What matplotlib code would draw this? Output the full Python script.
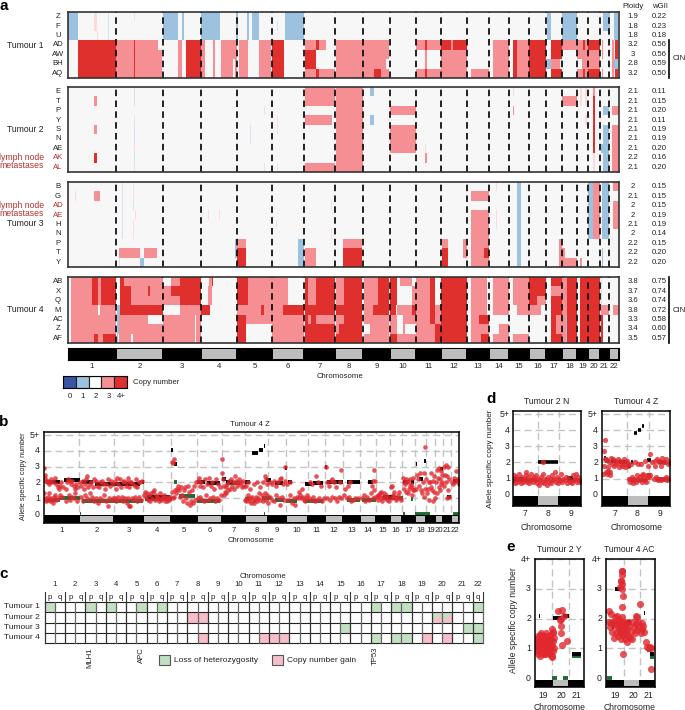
# -*- coding: utf-8 -*-
import matplotlib
matplotlib.use('Agg')
import matplotlib.pyplot as plt
from matplotlib.patches import Rectangle, Polygon

plt.rcParams['font.family'] = ['Liberation Sans', 'DejaVu Sans']
plt.rcParams['font.size'] = 5.6

W, H = 685, 710

# copy number colours
cn_colors = {1: '#9cc2e0', 1.5: '#d3e2f0', 2: '#f7f7f7', 2.5: '#fbdcdc', 3: '#f58f94', 4: '#e0302e', 0: '#ffffff'}
red_dot = '#e0282e'
green_seg = '#1c6b35'

# genome position of the chromosome edges in panel a
chrom_edges = [68, 116, 163, 201, 237, 272, 304, 335, 363, 390, 416, 441, 467, 489, 509, 529, 546, 562, 577, 588, 600, 609, 619]
chrom_names = [str(i) for i in range(1, 23)]

# panel a, (start, end, copy number) per sample
tumour1 = {
    'Z': [(68, 78, 1), (163, 178, 1), (182, 184, 1), (201, 220, 1), (236, 238, 1), (247, 249, 1), (252, 259, 1), (285, 304, 1),
          (94, 97, 2.5), (134, 135, 2.5), (108, 109, 1.5), (547, 551, 1), (562, 577, 1), (603, 610, 1), (614, 618, 1)],
    'F': [(68, 78, 1), (163, 178, 1), (182, 184, 1), (201, 220, 1), (236, 238, 1), (247, 249, 1), (252, 259, 1), (285, 304, 1),
          (94, 97, 2.5), (108, 109, 1.5), (277, 278, 1.5), (547, 551, 1), (562, 577, 1), (603, 610, 1), (614, 618, 1)],
    'U': [(68, 78, 1), (163, 178, 1), (182, 184, 1), (201, 220, 1), (236, 238, 1), (247, 249, 1), (252, 259, 1), (285, 304, 1),
          (97, 98, 2.5), (108, 109, 1.5), (547, 551, 1), (562, 577, 1), (614, 618, 1)],
    'AD': [(78, 116, 4), (116, 158, 3), (134, 135, 4), (178, 182, 3), (186, 201, 4), (201, 205, 3), (213, 215, 3), (221, 237, 3), (239, 248, 3),
           (259, 271, 3), (272, 284, 4), (305, 316, 3), (316, 319, 4), (319, 326, 3), (336, 389, 3), (416, 425, 3), (425, 427, 4), (427, 441, 3),
           (441, 451, 4), (451, 453, 3), (453, 467, 4), (493, 509, 3), (513, 517, 4), (517, 529, 3), (529, 546, 4), (551, 562, 4), (562, 577, 3),
           (577, 588, 3), (583, 585, 4), (588, 600, 4), (602, 603, 3), (612, 614, 3), (615, 618, 4)],
    'AW': [(78, 116, 4), (116, 162, 3), (134, 135, 4), (178, 182, 3), (186, 201, 4), (201, 205, 3), (213, 215, 3), (221, 237, 3), (239, 248, 3),
           (259, 271, 3), (272, 284, 4), (305, 316, 4), (336, 389, 3), (425, 427, 3), (441, 467, 3), (493, 509, 3), (513, 517, 4), (517, 529, 3),
           (529, 546, 4), (551, 562, 4), (577, 600, 3), (602, 603, 3), (612, 614, 3), (615, 618, 4)],
    'BH': [(78, 116, 4), (116, 162, 3), (134, 135, 4), (178, 182, 3), (186, 201, 4), (201, 205, 3), (213, 215, 3), (221, 233, 3), (235, 237, 3), (239, 248, 3),
           (259, 271, 3), (272, 284, 4), (305, 316, 4), (336, 386, 3), (425, 427, 3), (441, 467, 3), (493, 509, 3), (513, 517, 4), (517, 529, 3),
           (529, 546, 4), (546, 551, 1), (551, 560, 3), (582, 600, 3), (612, 614, 3), (614, 618, 1)],
    'AQ': [(78, 116, 4), (116, 162, 3), (134, 135, 4), (178, 182, 3), (186, 201, 4), (201, 205, 3), (213, 215, 3), (221, 233, 3), (235, 237, 3), (239, 248, 3),
           (259, 271, 3), (272, 284, 4), (305, 316, 3), (316, 319, 4), (319, 335, 3), (336, 389, 3), (374, 381, 4), (416, 425, 3), (425, 427, 4), (427, 467, 3),
           (471, 489, 3), (493, 509, 3), (513, 517, 4), (517, 529, 3), (529, 546, 4), (551, 562, 4), (577, 588, 3), (583, 585, 4), (588, 600, 4),
           (602, 603, 3), (612, 614, 3), (615, 618, 4)],
}
tumour2 = {
    'E': [(305, 335, 3), (336, 363, 3), (370, 374, 1), (134, 135, 1.5), (513, 514, 2.5), (580, 582, 2.5), (585, 587, 2.5), (593, 595, 3)],
    'T': [(94, 97, 3), (305, 335, 3), (336, 363, 3), (562, 577, 3), (134, 135, 1.5), (580, 582, 2.5), (585, 587, 2.5), (593, 595, 4)],
    'P': [(336, 363, 3), (390, 416, 3), (513, 514, 3), (603, 609, 1), (612, 619, 3), (264, 265, 2.5), (593, 595, 4)],
    'Y': [(305, 332, 3), (336, 363, 3), (370, 374, 1), (134, 135, 2.5), (277, 278, 2.5), (250, 251, 2), (585, 587, 2.5), (593, 595, 4)],
    'S': [(94, 97, 3), (336, 363, 3), (390, 416, 3), (134, 135, 1.5), (277, 278, 2.5), (250, 251, 1.5), (593, 595, 4), (603, 609, 1), (612, 619, 3)],
    'N': [(336, 363, 3), (390, 416, 3), (134, 135, 1.5), (250, 251, 1.5), (593, 595, 4), (603, 609, 1), (612, 619, 3)],
    'AE': [(336, 363, 3), (390, 416, 3), (134, 135, 2.5), (593, 595, 4), (601, 609, 1), (612, 619, 3), (425, 426, 2.5)],
    'AK': [(94, 97, 4), (336, 363, 3), (134, 135, 1.5), (425, 427, 3), (593, 595, 2.5), (603, 609, 1), (612, 619, 3)],
    'AL': [(305, 335, 3), (336, 363, 3), (134, 135, 2.5), (264, 265, 2.5), (277, 278, 2.5), (593, 595, 2.5), (603, 609, 1), (612, 619, 3)],
}
tumour3 = {
    'B': [(122, 123, 1.5), (133, 134, 2.5), (517, 521, 1), (588, 593, 1), (593, 600, 3), (602, 609, 1), (613, 619, 3), (496, 497, 2.5)],
    'G': [(94, 100, 3), (75, 76, 2.5), (122, 123, 1.5), (133, 134, 2.5), (471, 489, 3), (517, 521, 1), (588, 593, 1), (593, 600, 3), (602, 609, 1)],
    'AD': [(122, 123, 1.5), (133, 134, 1.5), (517, 521, 1), (588, 593, 1), (593, 600, 3), (602, 609, 1), (613, 619, 3), (331, 332, 2.5)],
    'AE': [(122, 123, 1.5), (135, 136, 2.5), (208, 209, 2.5), (219, 220, 2.5), (471, 489, 3), (496, 497, 2.5), (517, 521, 1), (588, 593, 1), (593, 600, 3), (602, 609, 1), (613, 619, 3)],
    'H': [(122, 123, 1.5), (133, 134, 2.5), (276, 277, 2.5), (471, 489, 3), (496, 497, 2.5), (517, 521, 1), (588, 593, 1), (593, 600, 3), (602, 609, 1), (613, 619, 3)],
    'N': [(122, 123, 1.5), (133, 134, 2.5), (331, 332, 2.5), (471, 489, 3), (517, 521, 1), (588, 593, 1), (593, 600, 3), (602, 609, 1)],
    'P': [(235, 237, 1), (237, 246, 3), (298, 304, 1), (343, 362, 3), (442, 448, 3), (463, 467, 3), (471, 489, 3), (517, 521, 1), (559, 562, 3)],
    'T': [(119, 140, 3), (144, 157, 3), (235, 237, 1), (237, 246, 4), (298, 304, 1), (305, 316, 3), (343, 362, 4), (442, 448, 4), (463, 467, 3),
          (471, 489, 3), (484, 489, 4), (517, 521, 1), (559, 562, 3), (562, 565, 3), (602, 603, 1)],
    'Y': [(119, 120, 1.5), (140, 144, 1), (237, 246, 4), (298, 304, 1), (305, 316, 3), (343, 362, 4), (442, 448, 4), (471, 489, 3), (517, 521, 1),
          (559, 562, 3), (562, 577, 3), (580, 582, 3), (602, 603, 1)],
}
tumour4 = {
    'AB': [(71, 92, 3), (92, 98, 4), (98, 101, 3), (101, 116, 4), (120, 124, 4), (124, 129, 3), (129, 163, 3), (171, 180, 3), (180, 201, 4), (209, 212, 3), (212, 213, 4),
           (237, 248, 4), (248, 272, 3), (272, 288, 3), (305, 308, 4), (308, 316, 3), (316, 335, 4), (336, 344, 3), (344, 362, 4), (364, 378, 3), (378, 389, 4),
           (390, 397, 4), (400, 412, 3), (416, 430, 3), (430, 435, 4), (441, 467, 4), (471, 487, 3), (493, 509, 3), (513, 529, 3), (529, 546, 4), (551, 562, 4),
           (562, 567, 3), (567, 577, 4), (580, 588, 4), (588, 600, 4), (601, 602, 1.5)],
    'X': [(71, 92, 3), (92, 98, 4), (98, 101, 3), (101, 116, 4), (120, 131, 4), (131, 148, 3), (148, 150, 4), (150, 163, 3), (163, 171, 3), (171, 201, 4), (208, 212, 3),
          (237, 248, 4), (248, 272, 3), (272, 288, 3), (305, 308, 4), (308, 316, 3), (316, 335, 4), (336, 344, 3), (344, 362, 4), (364, 378, 3), (378, 389, 4),
          (390, 397, 4), (412, 416, 3), (416, 430, 3), (430, 435, 4), (441, 467, 4), (471, 487, 3), (493, 509, 3), (513, 529, 3), (529, 546, 4), (551, 562, 3),
          (562, 567, 3), (567, 577, 4), (580, 588, 4), (588, 600, 4), (601, 602, 1.5)],
    'Q': [(71, 92, 3), (92, 98, 4), (98, 101, 3), (101, 116, 4), (120, 131, 4), (131, 163, 3), (163, 180, 3), (180, 201, 4), (208, 212, 3),
          (237, 248, 4), (248, 272, 3), (272, 288, 3), (305, 308, 4), (308, 316, 3), (316, 335, 4), (336, 344, 3), (344, 362, 4), (364, 378, 3), (378, 389, 4),
          (390, 397, 4), (412, 416, 3), (416, 430, 3), (430, 435, 4), (441, 467, 4), (471, 487, 3), (493, 509, 3), (513, 529, 3), (529, 537, 4), (537, 546, 3),
          (551, 562, 4), (562, 567, 3), (567, 577, 4), (580, 588, 4), (588, 600, 4), (601, 602, 1.5)],
    'M': [(71, 98, 3), (100, 116, 3), (116.5, 120, 1), (120, 163, 4), (180, 201, 3), (201, 210, 4), (237, 272, 3), (261, 264, 4), (272, 283, 3), (283, 304, 4),
          (305, 335, 4), (336, 362, 4), (364, 373, 3), (373, 389, 4), (390, 396, 4), (397, 412, 3), (412, 416, 4), (416, 430, 3), (430, 435, 4), (435, 441, 3), (441, 467, 4),
          (471, 487, 3), (493, 509, 3), (517, 529, 3), (529, 541, 3), (551, 562, 4), (562, 567, 3), (567, 577, 4), (580, 588, 4), (588, 600, 4), (601, 609, 3), (613, 619, 3)],
    'AC': [(71, 116, 3), (116.5, 119, 1), (119, 148, 3), (163, 195, 3), (196, 201, 3), (237, 246, 4), (246, 272, 3), (272, 304, 3), (305, 308, 4), (308, 311, 3), (311, 316, 4), (316, 335, 3),
           (336, 344, 3), (344, 362, 4), (364, 389, 3), (390, 397, 3), (403, 416, 3), (416, 430, 3), (430, 435, 4), (435, 441, 3), (441, 467, 4), (471, 479, 3), (479, 489, 4),
           (551, 556, 4), (556, 562, 3), (562, 566, 3), (566, 567, 1), (567, 577, 4), (580, 588, 4), (588, 600, 4), (601, 603, 4)],
    'Z': [(71, 116, 3), (116.5, 119, 1), (119, 163, 3), (163, 195, 3), (196, 201, 3), (237, 246, 4), (272, 304, 3), (305, 335, 4), (336, 339, 3), (339, 362, 4),
          (370, 389, 3), (390, 397, 3), (403, 405, 3), (416, 430, 3), (430, 435, 3), (435, 441, 4), (441, 467, 4), (471, 489, 3), (499, 509, 3), (551, 556, 4), (556, 562, 3),
          (562, 566, 3), (566, 567, 1), (567, 577, 4), (580, 588, 4), (588, 600, 4), (601, 603, 4)],
    'AF': [(71, 94, 3), (94, 98, 4), (98, 103, 3), (103, 116, 4), (116.5, 118, 1), (119, 131, 3), (133, 163, 3), (163, 195, 3), (196, 201, 3), (237, 246, 4), (272, 304, 3),
           (305, 335, 4), (336, 362, 4), (364, 389, 3), (390, 397, 4), (397, 416, 3), (416, 430, 3), (430, 435, 3), (435, 441, 4), (441, 467, 4), (471, 481, 3), (481, 489, 4),
           (493, 509, 3), (513, 529, 3), (551, 562, 4), (562, 566, 3), (566, 567, 1), (567, 577, 4), (580, 588, 4), (588, 600, 4), (601, 603, 4)],
}
ploidy1 = ['1.9', '1.8', '1.8', '3.2', '3', '2.8', '3.2']
wgii1 = ['0.22', '0.23', '0.18', '0.56', '0.56', '0.59', '0.50']
ploidy2 = ['2.1', '2.1', '2.1', '2.1', '2.1', '2.1', '2.1', '2.2', '2.1']
wgii2 = ['0.11', '0.15', '0.20', '0.11', '0.19', '0.19', '0.20', '0.16', '0.20']
ploidy3 = ['2', '2.1', '2', '2', '2.1', '2', '2.2', '2.2', '2.2']
wgii3 = ['0.15', '0.15', '0.15', '0.19', '0.19', '0.14', '0.15', '0.20', '0.20']
ploidy4 = ['3.8', '3.7', '3.6', '3.8', '3.3', '3.4', '3.5']
wgii4 = ['0.75', '0.74', '0.74', '0.72', '0.58', '0.60', '0.57']

# panel b
b_edges = [44, 79, 114, 143, 171, 197, 222, 245, 268, 286, 308, 325, 343, 360, 376, 390, 402, 415, 426, 435, 443, 451, 459]
b_x = [44.5, 45, 45, 46, 47, 48, 49, 50, 51, 53, 55, 56, 58, 59, 60, 61, 63, 66, 67, 68, 70, 71, 72, 74, 75, 76, 77,
       44.5, 45, 46, 47, 48, 49, 50, 51, 52, 53, 54, 55, 56, 58, 60, 62, 66, 69, 70, 72, 74, 75, 77,
       80, 81, 83, 84, 85, 86, 87, 88, 90, 91, 93, 94, 96, 97, 99, 100, 102, 103, 105, 106, 108, 110, 111, 113,
       81, 83, 85, 87, 89, 90, 92, 94, 96, 98, 100, 102, 104, 106, 108, 109, 111, 113,
       115, 116, 117, 118, 120, 121, 123, 124, 126, 127, 128, 129, 130, 131, 133, 135, 136, 137, 139, 140, 142,
       115, 116, 118, 120, 122, 123, 125, 127, 128, 130, 132, 133, 135, 137, 139, 141, 129,
       144, 145, 146, 147, 148, 149, 150, 151, 152, 153, 154, 155, 156, 157, 158, 159, 160, 161, 162, 163, 164, 165, 166, 167, 168, 169, 170,
       172, 173, 174, 172, 173, 174, 175, 176, 177, 178, 179, 180, 181, 182, 183, 184, 185, 186, 187, 188, 189, 190, 191, 192, 193, 194, 195, 196,
       198, 199, 200, 201, 203, 205, 207, 209, 211, 212, 214, 216, 218, 220,
       198, 200, 202, 204, 206, 208, 210, 213, 215, 217, 219, 221,
       222, 222, 223, 224, 225, 226, 227, 228, 229, 230, 231, 232, 233, 234, 235, 236, 237, 238, 239, 240, 241, 242, 243, 244, 226, 224,
       246, 248, 250, 254, 257, 260, 263, 265, 266, 267,
       245, 246, 247, 248, 249, 250, 251, 252, 253, 254, 255, 256, 257, 258, 259, 260, 262, 263, 264, 265, 266, 267, 268,
       270, 272, 274, 276, 278, 280, 281, 283, 285, 285, 270, 272, 274, 276, 279, 280, 282, 284,
       287, 290, 288, 290, 292, 294, 295, 297, 298, 299, 300, 301, 302, 303, 304, 305, 306, 307,
       310, 312, 316, 318, 321, 309, 311, 313, 315, 317, 319, 322, 324,
       326, 327, 329, 331, 332, 334, 336, 341, 340, 327, 330, 332, 335, 337, 339, 341,
       344, 347, 349, 351, 353, 355, 345, 348, 350, 358,
       362, 364, 365, 367, 369, 371, 372, 373, 374, 375, 374, 375, 373,
       377, 378, 379, 380, 381, 382, 383, 384, 385, 386, 387, 388, 389, 378, 381,
       391, 392, 393, 394, 395, 396, 397, 398, 399, 400, 401, 392, 393,
       403, 404, 405, 406, 407, 408, 409, 410, 411, 412, 413, 414, 404, 406, 408, 410, 412, 413,
       416, 417, 418, 419, 420, 421, 422, 423, 424, 425, 426, 425, 424,
       427, 428, 429, 430, 431, 432, 433, 434, 429, 431, 433, 434, 435,
       436, 437, 438, 439, 440, 441, 442, 437, 439, 440, 441, 442,
       444, 445, 446, 447, 448, 444, 446, 448, 447, 449, 449,
       452, 453, 454, 455, 456, 457, 458, 459]
b_y = [2.9, 2.5, 2.3, 2.1, 2.0, 2.1, 1.9, 2.0, 2.2, 2.0, 2.3, 1.9, 1.7, 1.6, 1.8, 2.0, 1.7, 1.6, 2.0, 2.2, 2.1, 1.9, 2.1, 1.8, 1.6, 1.9, 1.7,
       1.3, 1.0, 0.8, 0.9, 1.1, 1.3, 0.8, 1.0, 0.9, 0.7, 1.1, 1.2, 0.9, 1.0, 1.2, 1.1, 0.8, 1.2, 0.9, 1.1, 1.0, 1.3, 0.8,
       2.0, 1.8, 2.1, 1.6, 1.9, 2.2, 2.4, 1.7, 1.9, 2.0, 1.7, 2.2, 2.1, 1.8, 1.7, 2.0, 2.1, 1.9, 1.6, 1.9, 2.2, 1.8, 2.1, 1.9,
       1.1, 0.8, 1.2, 1.0, 0.9, 1.3, 1.1, 0.8, 1.0, 0.7, 1.0, 0.9, 1.2, 0.8, 0.5, 1.0, 0.9, 1.0,
       2.1, 1.6, 2.3, 1.9, 2.2, 1.7, 2.0, 2.1, 1.8, 2.0, 2.3, 1.7, 2.0, 2.0, 1.9, 1.8, 2.2, 1.7, 2.0, 2.0, 2.1,
       1.0, 0.8, 1.1, 0.9, 1.1, 0.8, 1.0, 0.7, 1.0, 0.5, 1.0, 0.9, 1.1, 0.8, 1.1, 0.9, 0.5,
       1.2, 1.4, 1.1, 1.3, 0.9, 1.2, 0.8, 1.3, 1.0, 1.4, 1.5, 0.9, 1.2, 1.1, 1.0, 0.8, 1.3, 0.9, 1.1, 1.0, 1.2, 0.8, 1.0, 0.8, 1.1, 0.9, 1.1,
       3.3, 3.2, 3.5, 1.4, 1.0, 1.1, 1.5, 1.3, 1.6, 1.8, 1.5, 1.1, 1.7, 1.2, 0.8, 1.5, 1.7, 1.0, 0.7, 1.8, 1.4, 0.6, 0.8, 1.5, 0.7, 1.8, 0.9, 2.0,
       2.1, 2.3, 1.8, 2.0, 1.7, 2.2, 1.9, 2.3, 1.8, 2.0, 1.6, 2.2, 1.9, 1.7,
       1.0, 1.1, 0.9, 0.8, 1.2, 0.9, 1.0, 1.1, 0.8, 1.0, 0.9, 1.2,
       3.5, 2.6, 2.2, 1.8, 1.4, 1.7, 1.9, 1.5, 2.1, 1.6, 2.2, 1.8, 2.0, 1.6, 2.4, 2.1, 1.8, 2.0, 2.2, 1.9, 2.0, 1.7, 2.1, 1.8, 1.3, 1.2,
       1.8, 2.0, 1.6, 1.9, 2.0, 1.7, 2.0, 2.4, 2.2, 1.9,
       0.9, 0.8, 1.0, 1.2, 0.8, 1.0, 0.7, 1.1, 0.9, 0.7, 0.9, 1.1, 0.8, 1.0, 1.3, 0.9, 1.2, 0.8, 1.0, 1.3, 0.9, 1.2, 0.7,
       2.0, 1.9, 2.1, 1.8, 2.0, 2.2, 2.3, 1.9, 2.1, 3.0, 1.1, 0.9, 0.8, 1.2, 1.0, 0.6, 1.1, 0.9,
       1.9, 2.0, 0.9, 1.2, 0.7, 1.0, 0.6, 1.1, 1.0, 1.4, 1.2, 1.0, 1.6, 1.1, 0.9, 0.8, 1.0, 1.2,
       2.0, 1.9, 2.4, 2.0, 1.8, 1.0, 0.9, 1.1, 0.8, 0.9, 1.0, 0.8, 1.0,
       3.0, 2.0, 1.8, 2.1, 2.2, 2.0, 1.7, 2.8, 2.0, 1.0, 0.9, 1.1, 1.0, 0.8, 1.1, 1.0,
       1.2, 1.0, 1.1, 0.8, 0.9, 1.0, 1.6, 1.8, 2.0, 1.0,
       1.0, 1.2, 0.8, 1.1, 0.9, 1.3, 1.8, 2.1, 2.8, 2.1, 1.5, 1.1, 1.0,
       1.1, 0.9, 1.2, 1.3, 1.0, 0.8, 1.1, 1.3, 1.0, 1.2, 0.9, 1.1, 0.8, 1.2, 1.4,
       1.7, 1.0, 1.2, 1.4, 1.1, 0.9, 1.0, 1.2, 1.4, 1.0, 0.9, 1.8, 1.1,
       2.3, 2.0, 1.9, 2.2, 2.0, 2.1, 1.6, 2.2, 1.9, 1.7, 2.3, 1.5, 1.6, 1.4, 1.3, 1.8, 1.2, 1.5,
       1.6, 2.5, 2.2, 1.8, 2.6, 1.5, 1.3, 2.0, 1.1, 1.6, 2.2, 4.25, 2.6,
       1.3, 1.6, 0.9, 2.0, 2.6, 1.5, 2.1, 2.4, 2.0, 1.7, 0.8, 1.4, 1.0,
       2.0, 2.8, 2.3, 1.7, 2.2, 2.7, 2.5, 1.3, 2.9, 1.5, 1.9, 2.0,
       3.0, 2.5, 3.1, 2.4, 3.0, 1.8, 2.0, 1.5, 1.0, 1.1, 2.2,
       2.0, 1.9, 2.3, 2.0, 2.7, 2.2, 2.1, 1.9]
b_major = [(46, 60, 2.05), (64, 80, 2.15), (82, 93, 2.0), (95, 140, 1.9), (142, 143.5, 2.0), (147, 170, 1.05), (170.5, 172.5, 4.05), (173.5, 176.5, 3.15),
           (197, 205, 2.0), (207, 220, 1.95), (222, 226, 2.2), (226, 233, 2.0), (245, 250, 2.0), (252, 258, 3.85), (259, 263, 4.05), (263.5, 265, 4.3),
           (266, 271, 2.15), (275, 283, 1.98), (285, 287, 2.9), (288, 292, 2.0), (305, 312, 1.9), (313, 323, 1.95), (325, 326.5, 3.0), (327, 343, 2.0),
           (347, 360, 2.0), (368, 373, 2.0), (383, 395, 1.05), (403, 408, 2.0), (411, 414, 2.05), (415.5, 417, 3.15), (419, 423, 2.2), (424, 426, 3.35),
           (440, 443, 2.85), (447, 451, 1.05), (453, 458, 2.1)]
b_minor = [(46, 60, 0.9), (60, 80, 1.0), (82, 143, 0.85), (145, 172, 0.95), (174, 177, 2.05), (179, 195, 1.15), (197, 220, 0.85), (222, 226, 2.2),
           (226, 240, 1.95), (245, 250, 0.95), (262, 271, 1.0), (275, 284, 0.9), (286, 297, 0.85), (305, 323, 0.85), (313, 323, 1.95), (347, 360, 0.9),
           (362, 376, 0.9), (383, 403, 1.0), (411, 413, 0.95), (403, 405, 0.0), (415, 430, 0.0), (453, 459, 0.0), (80, 81, 0.0), (264, 265, 0.0)]

# panel c
arms = ['p', 'q'] * 21 + ['q']
tumour_names = ['Tumour 1', 'Tumour 2', 'Tumour 3', 'Tumour 4']
loh_cells = [[0, 4, 6, 9, 11, 32, 34, 35, 42], [], [29, 41, 42], [32, 34, 35, 42]]
gain_cells = [[], [14, 15], [], [15, 21, 22, 23, 37, 39]]
mixed_cells = [[], [38, 39], [], []]
gene_names = ['MLH1', 'APC', 'TP53']
gene_cells = [4.4, 9.4, 32.4]

# panel d, x positions run 7 to 9 over the box
d1_x = [513, 514, 515, 516, 517, 518, 519, 520, 521, 522, 523, 524, 525, 526, 527, 528, 529, 530, 531, 532, 533, 534, 535, 536, 537, 538, 539, 540, 541, 542,
        543, 544, 545, 546, 547, 548, 549, 550, 551, 552, 553, 554, 555, 556, 557, 558, 559, 560, 561, 562, 563, 565, 566, 567, 569, 570, 572, 573, 574, 575, 576, 577, 578, 579, 580, 543, 526]
d1_y = [0.9, 1.2, 0.7, 1.1, 0.8, 1.0, 1.3, 0.9, 0.7, 1.1, 0.8, 1.0, 0.9, 1.2, 0.8, 1.1, 0.7, 0.9, 1.3, 1.0, 0.8, 1.1, 0.9, 1.2, 0.7, 1.0, 0.6, 0.9, 1.1, 0.8,
        1.3, 0.7, 1.0, 0.9, 0.6, 1.1, 0.8, 1.0, 0.7, 1.2, 0.9, 1.0, 1.4, 0.8, 1.1, 0.7, 1.0, 0.9, 1.3, 0.8, 1.0, 0.9, 1.1, 0.7, 1.0, 0.8, 0.7, 1.2, 0.9, 1.0, 1.3, 0.8, 1.1, 0.9, 0.8, 2.0, 1.4]
d2_x = [603, 604, 604, 605, 606, 607, 608, 609, 610, 611, 612, 613, 614, 615, 616, 617, 618, 619, 620, 621, 622, 623, 624, 625, 626, 627, 628, 606, 608, 610, 605,
        628, 629, 630, 631, 632, 633, 634, 635, 636, 637, 638, 639, 640, 641, 642, 643, 644, 645, 646, 647, 648, 649, 650, 630, 634, 638, 642, 645, 647,
        650, 652, 654, 655, 656, 657, 658, 659, 660, 661, 662, 663, 664, 665, 666, 667, 668, 669, 655, 657, 659, 661, 664, 666, 668]
d2_y = [1.3, 1.8, 2.7, 3.4, 2.2, 1.3, 1.5, 2.0, 1.4, 2.3, 1.9, 2.2, 1.8, 2.1, 1.9, 2.0, 2.2, 1.7, 2.1, 1.9, 1.8, 2.0, 2.2, 1.7, 1.9, 2.1, 1.8, 1.4, 1.7, 1.2, 2.2,
        1.9, 1.0, 0.8, 1.9, 1.1, 0.7, 1.0, 2.0, 0.8, 1.2, 1.9, 0.9, 1.1, 1.9, 0.8, 1.3, 1.0, 2.1, 0.8, 1.2, 1.8, 1.1, 2.5, 1.0, 0.9, 1.0, 1.2, 0.9, 1.1,
        1.2, 2.0, 1.0, 1.8, 1.1, 2.2, 0.9, 2.1, 1.0, 1.8, 2.3, 1.0, 2.0, 1.0, 2.2, 0.9, 1.0, 2.0, 2.1, 1.0, 2.0, 0.9, 2.0, 1.1, 1.9]
d1_major = [(513, 525, 1.0), (537.7, 558, 2.0), (567, 573, 1.05)]
d1_minor = [(513, 537, 0.9), (567, 580, 0.9)]
d2_major = [(604, 606, 2.25), (611, 616, 2.1), (619, 626, 2.05), (628, 631, 1.8), (631, 633, 2.05), (634, 637, 3.85), (638, 641, 4.0), (642, 644, 4.25), (647, 651, 2.15), (658, 666, 2.0)]
d2_minor = [(605, 610, 2.1), (631, 646, 0.9), (647, 651, 1.25), (658, 668, 0.95), (622, 628, 2.0)]

# panel e
e1_x = [536, 536, 537, 537, 538, 538, 538, 539, 539, 540, 540, 540, 541, 541, 541, 542, 542, 543, 543, 543, 544, 544, 544, 545, 545, 545, 546, 546, 546, 547, 547, 548, 548,
        548, 549, 549, 550, 550, 550, 551, 551, 552, 552, 553, 553, 553, 554, 554, 552, 553, 552, 558, 561, 562, 560, 561, 561, 562, 564, 567]
e1_y = [1.0, 1.2, 0.9, 1.3, 1.1, 0.8, 1.4, 1.0, 1.2, 0.75, 1.1, 1.45, 0.9, 1.2, 1.5, 1.0, 1.3, 0.8, 1.1, 1.4, 0.9, 1.2, 1.0, 1.3, 0.8, 1.1, 1.5, 1.0, 0.85, 1.2, 1.4, 0.9, 1.1,
        1.3, 0.8, 1.0, 1.2, 1.45, 0.85, 1.05, 1.3, 0.75, 1.1, 0.9, 1.25, 1.5, 1.0, 1.35, 1.65, 1.55, 0.7, 2.25, 2.0, 2.3, 1.95, 1.75, 1.5, 1.1, 2.1, 1.25]
e2_x = [609, 609, 610, 611, 611, 612, 613, 614, 614, 615, 616, 616, 617, 617, 618, 618, 619, 619, 620, 620, 621, 621, 622, 622, 623, 623, 624, 624, 625, 625, 626, 626, 627, 627,
        628, 628, 629, 630, 631, 632, 633, 634, 635, 636, 636, 637, 637, 638, 639, 640, 641, 642, 642, 643, 644, 646, 647, 649, 650, 651, 651, 622, 623, 622, 621, 622, 622, 620, 622, 622, 621, 623]
e2_y = [2.25, 1.9, 1.7, 1.85, 2.15, 1.55, 1.9, 1.35, 1.8, 2.05, 1.5, 1.9, 1.7, 2.1, 1.4, 1.85, 1.65, 2.0, 1.5, 1.75, 1.9, 1.3, 1.6, 2.05, 1.45, 1.75, 1.9, 1.55, 1.3, 1.7, 1.85, 1.5,
        1.65, 1.2, 1.9, 1.4, 1.75, 1.35, 1.55, 1.3, 1.9, 1.7, 1.5, 2.1, 1.8, 1.6, 2.05, 1.9, 1.7, 2.5, 1.5, 1.85, 1.65, 1.75, 1.55, 1.2, 1.05, 1.0, 1.05, 1.0, 0.3, 2.4, 2.75, 3.15, 3.25, 3.45, 3.6, 3.05, 3.0, 3.6, 3.25, 0.8]
e1_major = [(553, 562, 2.02), (563, 569, 2.08), (572, 581, 0.8), (539, 540, 2.1)]
e1_minor = [(572, 581, 0.73), (552, 557, 0.0), (563, 568, 0.0)]
e2_major = [(615, 620, 2.98), (627, 631, 1.9), (644, 645, 2.2), (649, 651, 1.0), (650, 654, 0.8), (612, 614, 1.7)]
e2_minor = [(627, 631, 1.85), (647, 651, 0.95), (650, 654, 0.7), (607, 612, 0.0)]

fig = plt.figure(figsize=(W / 100, H / 100), dpi=100)


def px_axes(x0, y0, x1, y1):
    ax = fig.add_axes([x0 / W, 1 - y1 / H, (x1 - x0) / W, (y1 - y0) / H])
    ax.set_xticks([])
    ax.set_yticks([])
    return ax


page = fig.add_axes([0, 0, 1, 1], zorder=10)
page.set_xlim(0, W)
page.set_ylim(H, 0)
page.axis('off')
page.patch.set_alpha(0)


def txt(x, y, s, **kw):
    kw.setdefault('ha', 'center')
    kw.setdefault('va', 'center')
    page.text(x, y, s, **kw)


dark_red = '#b5312e'
for x, y, s in [(4, 6, 'a'), (4, 422, 'b'), (4, 574, 'c'), (491, 399, 'd'), (511, 547, 'e')]:
    txt(x, y, s, fontsize=11, fontweight='bold')


def heat_panel(data, y0, y1, ploidy, wgii, red=()):
    ax = px_axes(chrom_edges[0], y0, chrom_edges[-1], y1)
    ax.set_facecolor(cn_colors[2])
    ax.set_xlim(chrom_edges[0], chrom_edges[-1])
    ax.set_ylim(len(data), 0)
    names = list(data)
    for i, name in enumerate(names):
        for s, e, cn in data[name]:
            ax.broken_barh([(s, e - s)], (i, 1), color=cn_colors[cn], lw=0)
        yy = y0 + (y1 - y0) * (i + 0.5) / len(names)
        txt(58, yy, name, color=dark_red if name in red else '#222222')
        txt(633, yy, ploidy[i], color='#222222')
        txt(659, yy, wgii[i], color='#222222')
    for e in chrom_edges[1:-1]:
        ax.axvline(e, color='#111111', lw=1.3, dashes=(3.6, 2.4))
    for sp in ax.spines.values():
        sp.set_linewidth(1.2)
        sp.set_color('#333333')
    return ax


heat_panel(tumour1, 12, 78, ploidy1, wgii1)
heat_panel(tumour2, 87, 172, ploidy2, wgii2, red=('AK', 'AL'))
heat_panel(tumour3, 182, 267, ploidy3, wgii3, red=('AD', 'AE'))
heat_panel(tumour4, 277, 343, ploidy4, wgii4)

txt(44, 45, 'Tumour 1', ha='right', fontsize=6.2, color='#222222')
txt(44, 129, 'Tumour 2', ha='right', fontsize=6.2, color='#222222')
txt(44, 157, 'lymph node', ha='right', fontsize=6.2, color=dark_red)
txt(44, 166, 'metastases', ha='right', fontsize=6.2, color=dark_red)
txt(44, 205, 'lymph node', ha='right', fontsize=6.2, color=dark_red)
txt(44, 213, 'metastases', ha='right', fontsize=6.2, color=dark_red)
txt(44, 223, 'Tumour 3', ha='right', fontsize=6.2, color='#222222')
txt(44, 309, 'Tumour 4', ha='right', fontsize=6.2, color='#222222')
txt(633, 7, 'Ploidy', color='#222222')
txt(660, 7, 'wGII', color='#222222')
for y0, y1 in [(40, 78), (277, 343)]:
    page.plot([669, 669], [y0, y1], color='black', lw=1.2)
    txt(673, (y0 + y1) / 2, 'CIN', ha='left', color='#222222')


def ideogram(ax, edges, lo, hi):
    ax.axhspan(lo, hi, color='black', lw=0, zorder=3)
    for i in range(1, len(edges) - 1, 2):
        ax.add_patch(Rectangle((edges[i] + 0.7, lo + (hi - lo) * 0.08), edges[i + 1] - edges[i] - 1.4, (hi - lo) * 0.84,
                               fc='#bdbdbd', ec='none', zorder=4))


ideo = px_axes(chrom_edges[0], 348, chrom_edges[-1], 360)
ideo.set_xlim(chrom_edges[0], chrom_edges[-1])
ideo.set_ylim(0, 1)
ideogram(ideo, chrom_edges, 0, 1)
for i, name in enumerate(chrom_names):
    txt((chrom_edges[i] + chrom_edges[i + 1]) / 2, 367, name, color='#222222')
txt(340, 377, 'Chromosome', color='#222222')

# copy number key
key_labels = ['0', '1', '2', '3', '4+']
key_colors = ['#3a55a4', cn_colors[1], '#ffffff', cn_colors[3], cn_colors[4]]
key = px_axes(63, 376, 127, 388)
key.set_xlim(0, 5)
key.set_ylim(0, 1)
for i, c in enumerate(key_colors):
    key.bar(i + 0.5, 1, width=1, color=c, edgecolor='#222222', lw=0.8)
    txt(70 + i * 12.8, 396, key_labels[i], color='#222222')
txt(133, 383, 'Copy number', ha='left', color='#222222')


def allele_panel(box, edges, ideo_edges, ylo, yhi, yticks, ylabels, xs, ys, major, minor, size, grid_x, lab_x, seg_lw=2.6):
    ax = px_axes(*box)
    ax.set_xlim(box[0], box[2])
    ax.set_ylim(ylo, yhi)
    for y in yticks[1:]:
        ax.axhline(y, color='#c4c4c4', lw=1.0, dashes=(5, 3), zorder=1)
    for x in grid_x:
        ax.axvline(x, color='#c4c4c4', lw=1.0, dashes=(5, 3), zorder=1)
    for s, e, v in minor:
        ax.plot([s, e], [v, v], color=green_seg, lw=seg_lw, solid_capstyle='butt', zorder=2)
    for s, e, v in major:
        ax.plot([s, e], [v, v], color='black', lw=seg_lw, solid_capstyle='butt', zorder=2)
    ax.scatter(xs, ys, s=size, color=red_dot, alpha=0.8, lw=0, zorder=2.5)
    ideogram(ax, ideo_edges, ylo, -0.06)
    for sp in ax.spines.values():
        sp.set_linewidth(1.1)
    ax.set_zorder(2)
    ytop = box[3] - (0 - ylo) / (yhi - ylo) * (box[3] - box[1])
    unit = (box[3] - box[1]) / (yhi - ylo)
    for v, lab in zip(yticks, ylabels):
        txt(lab_x, ytop - v * unit, lab, ha='right', color='#222222', fontsize=6.3)
    return ax


# panel b
allele_panel((44, 432, 459, 523), b_edges, b_edges, -0.566, 5.19, [0, 1, 2, 3, 4, 5], ['0', '1', '2', '3', '4', '5+'],
             b_x, b_y, b_major, b_minor, 11, b_edges[1:-1], 40, seg_lw=2.8)
for i, name in enumerate(chrom_names):
    txt((b_edges[i] + b_edges[i + 1]) / 2, 531, name, color='#222222')
txt(251, 541, 'Chromosome', color='#222222')
txt(250, 425, 'Tumour 4 Z', color='#222222')
txt(24, 476, 'Allele specific copy number', rotation=90, fontsize=5.2, color='#222222')

# panel c
table = px_axes(44.7, 592, 483, 643)
table.set_xlim(0, len(arms))
table.set_ylim(4, -1)
table.axis('off')
for r in range(4):
    for c in loh_cells[r]:
        table.add_patch(Rectangle((c, r), 1, 1, fc='#c3e0c2', ec='none'))
    for c in gain_cells[r]:
        table.add_patch(Rectangle((c, r), 1, 1, fc='#f6bec8', ec='none'))
    for c in mixed_cells[r]:
        table.add_patch(Rectangle((c, r), 1, 1, fc='#c3e0c2', ec='none'))
        table.add_patch(Polygon([(c, r + 1), (c + 1, r), (c + 1, r + 1)], fc='#f6bec8', ec='none'))
    txt(40, 607 + r * 10.3, tumour_names[r], ha='right', color='#222222', fontsize=6)
for r in range(5):
    table.plot([0, len(arms)], [r, r], color='#222222', lw=0.8, clip_on=False)
for c in range(len(arms) + 1):
    table.plot([c, c], [0, 4], color='#333333' if c % 2 == 0 else '#666666', lw=0.9, clip_on=False)
    if c % 2 == 0 or c == len(arms):
        table.plot([c, c], [-1, 0], color='#333333', lw=0.8, clip_on=False)
for c, arm in enumerate(arms):
    table.text(c + 0.5, -0.5, arm, ha='center', va='center', color='#222222')
for i in range(22):
    xc = min(2 * i + 1, 42.5)
    txt(44.7 + xc * 10.19, 585, chrom_names[i], color='#222222')
txt(263, 576, 'Chromosome', color='#222222')
for g, c in zip(gene_names, gene_cells):
    txt(44.7 + (c + 0.05) * 10.19, 647, g, rotation=90, va='top', color='#222222')
for x, col, lab in [(159, '#c3e0c2', 'Loss of heterozygosity'), (272, '#f6bec8', 'Copy number gain')]:
    page.add_patch(Rectangle((x, 655), 11, 10, fc=col, ec='#555555', lw=0.8))
    txt(x + 15, 661, lab, ha='left', color='#222222', fontsize=6)

# panel d
d_yticks, d_labels = [0, 1, 2, 3, 4, 5], ['0', '1', '2', '3', '4', '5+']
d_ylo, d_yhi = -0.68, 5.19
allele_panel((512.7, 411, 580.7, 505.7), [512.7, 537.7, 559, 580.7], [512.7, 537.7, 559, 580.7], d_ylo, d_yhi, d_yticks, d_labels,
             d1_x, d1_y, d1_major, d1_minor, 14, [537.7, 559], 510, seg_lw=2.6)
allele_panel((602, 411, 670, 505.7), [602, 627, 648.5, 670], [602, 627, 648.5, 670], d_ylo, d_yhi, d_yticks, d_labels,
             d2_x, d2_y, d2_major, d2_minor, 14, [627, 648.5], 598, seg_lw=2.6)
for off, t in [(0, 'Tumour 2 N'), (89.5, 'Tumour 4 Z')]:
    txt(546.7 + off, 401, t, fontsize=6.2, color='#222222')
    txt(546.7 + off, 528, 'Chromosome', fontsize=6.2, color='#222222')
    for x, lab in [(525, '7'), (548, '8'), (570.7, '9')]:
        txt(x + off, 513, lab, fontsize=6.2, color='#222222')
txt(491, 459, 'Allele specific copy number', rotation=90, fontsize=5.9, color='#222222')

# panel e
e_yticks, e_labels = [0, 1, 2, 3, 4], ['0', '1', '2', '3', '4+']
e_ylo, e_yhi = -0.29, 4.0
allele_panel((535, 559, 584, 686.7), [535, 552, 569, 584], [535, 552, 569, 584], e_ylo, e_yhi, e_yticks, e_labels,
             e1_x, e1_y, e1_major, e1_minor, 26, [552, 569], 531, seg_lw=2.8)
allele_panel((606, 559, 655, 686.7), [606, 623.7, 640, 655], [606, 623.7, 640, 655], e_ylo, e_yhi, e_yticks, e_labels,
             e2_x, e2_y, e2_major, e2_minor, 26, [623.7, 640], 602, seg_lw=2.8)
for cx, t in [(559, 'Tumour 2 Y'), (629, 'Tumour 4 AC')]:
    txt(cx, 550, t, fontsize=6.2, color='#222222')
    txt(cx + 1, 707, 'Chromosome', fontsize=6.2, color='#222222')
for x, lab in [(543, '19'), (561, '20'), (576, '21'), (615, '19'), (633, '20'), (648, '21')]:
    txt(x, 695, lab, fontsize=6.2, color='#222222')
txt(514, 620, 'Allele specific copy number', rotation=90, fontsize=6.2, color='#222222')

fig.savefig('out.png', dpi=100)
